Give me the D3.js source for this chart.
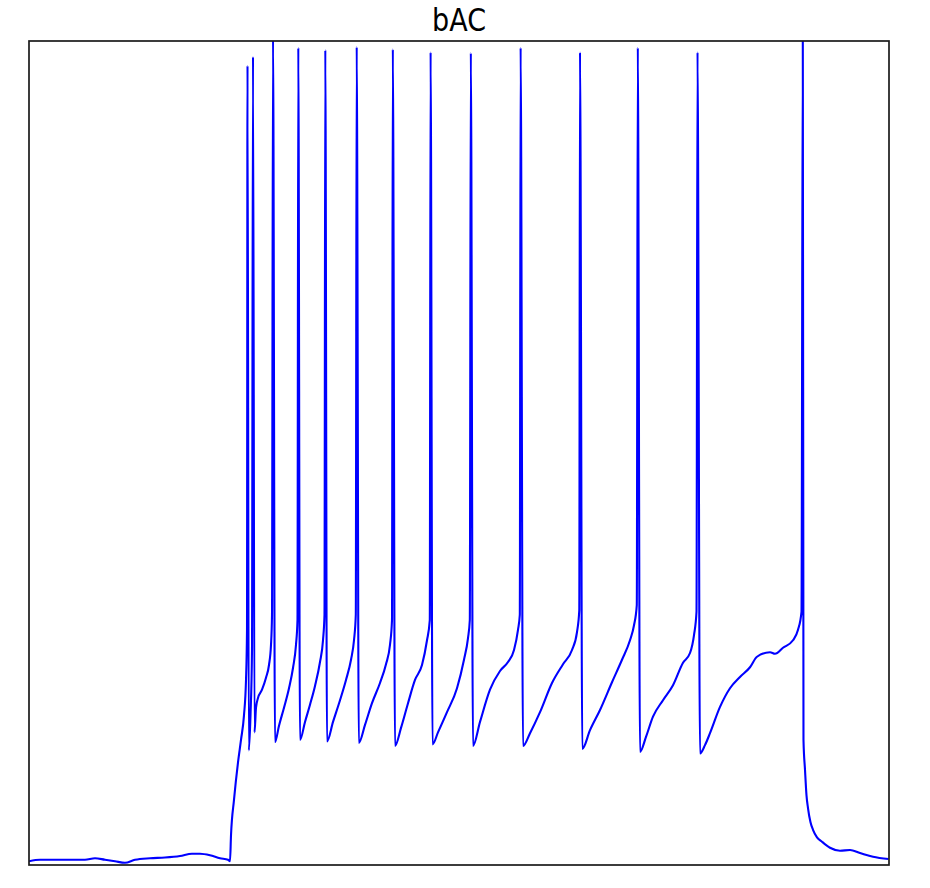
<!DOCTYPE html>
<html>
<head>
<meta charset="utf-8">
<script src="https://cdn.jsdelivr.net/npm/d3@7"></script>
<style>
  body { margin: 0; background: #fff; }
</style>
</head>
<body>
<svg id="chart"></svg>
<script>
// membrane potential trace, [time ms, voltage mV]
const chartTitle = "bAC";
const timeRange = [0, 3000];
const voltRange = [-80, 30];

const beforeStim = [
  [0, -79.5], [38.4, -79.3], [90.7, -79.3], [143.0, -79.3], [195.3, -79.3],
  [230.2, -79.1], [265.1, -79.3], [300.0, -79.5], [334.9, -79.7], [369.8, -79.3],
  [422.1, -79.1], [474.4, -79.0], [526.7, -78.8], [568.6, -78.5], [596.5, -78.5],
  [631.4, -78.7], [666.3, -79.1], [694.2, -79.3], [701.2, -79.5]
];

const duringStim = [
  [704.7, -76.0], [715.1, -71.3], [729.1, -66.3], [739.5, -63.3], [750.0, -60.0], [757.0, -55.3], [760.5, -48.6],
  [762.2, 26.7], [766.7, -64.7],
  [772.7, -60.0], [777.9, -51.3], [781.4, 27.9], [786.6, -62.3],
  [791.9, -59.0], [798.8, -57.7], [812.8, -56.6], [826.7, -55.0], [837.2, -53.3], [844.2, -50.6], [847.7, -46.6],
  [851.2, 30.8], [858.1, -63.6],
  [872.1, -61.4], [889.5, -59.0], [907.0, -56.4], [920.9, -53.7], [931.4, -50.6], [936.6, -47.3],
  [939.4, 29.1], [945.3, -63.3],
  [962.8, -60.9], [980.2, -58.6], [997.7, -56.1], [1015.1, -52.9], [1025.6, -50.0], [1030.8, -46.6],
  [1033.6, 28.8], [1039.5, -63.5],
  [1060.5, -60.9], [1084.9, -58.0], [1105.8, -55.3], [1123.3, -52.6], [1133.7, -50.0], [1140.0, -46.6],
  [1143.1, 29.2], [1150.5, -63.7],
  [1172.1, -61.3], [1196.5, -58.4], [1224.4, -55.7], [1245.3, -53.2], [1259.3, -50.6], [1266.3, -47.3],
  [1269.1, 28.9], [1276.7, -64.1],
  [1297.7, -61.7], [1322.1, -58.4], [1346.5, -55.3], [1370.9, -53.3], [1388.4, -50.0], [1398.1, -47.3],
  [1400.9, 28.5], [1407.6, -63.9],
  [1426.7, -62.3], [1458.1, -59.6], [1493.0, -56.4], [1517.4, -52.6], [1531.4, -49.7], [1537.7, -47.3],
  [1541.2, 28.4], [1548.8, -64.1],
  [1573.3, -60.9], [1608.1, -56.6], [1643.0, -54.1], [1670.9, -52.9], [1691.9, -51.3], [1705.8, -48.6], [1712.1, -46.6],
  [1714.9, 29.1], [1723.3, -64.1],
  [1747.7, -62.4], [1782.6, -59.6], [1824.4, -55.7], [1862.8, -53.2], [1894.2, -51.3], [1911.6, -48.9], [1919.6, -46.0],
  [1922.1, 28.5], [1930.1, -64.5],
  [1957.0, -62.0], [1991.9, -59.3], [2033.7, -55.6], [2068.6, -52.6], [2096.5, -50.0], [2110.5, -48.0], [2120.2, -45.3],
  [2123.7, 29.1], [2131.4, -64.9],
  [2152.3, -62.9], [2176.7, -60.2], [2211.6, -58.0], [2246.5, -56.0], [2281.4, -53.0], [2305.8, -51.7], [2319.8, -49.3], [2328.5, -46.2],
  [2332.0, 28.5], [2340.7, -65.1],
  [2358.1, -64.0], [2375.6, -62.4], [2410.5, -58.9], [2445.3, -56.4], [2480.2, -54.9], [2515.1, -53.6], [2539.5, -52.2],
  [2584.9, -51.6], [2602.3, -51.8], [2630.2, -51.0], [2665.1, -50.0], [2682.6, -48.6], [2694.8, -46.2],
  [2699.3, 30.8]
];

const afterStim = [
  [2701.7, -63.3], [2707.0, -67.3], [2712.2, -70.7], [2717.4, -72.4], [2726.2, -74.3], [2734.9, -75.3],
  [2748.8, -76.3], [2766.3, -76.9], [2794.2, -77.7], [2829.1, -78.1], [2864.0, -78.0], [2898.8, -78.4],
  [2944.2, -78.9], [2998.3, -79.2]
];

const trace = beforeStim.concat(duringStim, afterStim);

// set the dimensions and margins of the graph
var margin = {top: 41, right: 41, bottom: 23, left: 29},
    width = 930 - margin.left - margin.right,
    height = 888 - margin.top - margin.bottom;

var svg = d3.select("#chart")
    .attr("width", 930)
    .attr("height", 888);

var g = svg.append("g")
    .attr("transform", "translate(" + margin.left + "," + margin.top + ")");

var x = d3.scaleLinear().domain(timeRange).range([0, width]);
var y = d3.scaleLinear().domain(voltRange).range([height, 0]);

g.append("clipPath")
    .attr("id", "plot-clip")
  .append("rect")
    .attr("width", width)
    .attr("height", height);

var valueline = d3.line()
    .curve(d3.curveMonotoneX)
    .x(function(d) { return x(d[0]); })
    .y(function(d) { return y(d[1]); });

g.append("path")
    .datum(trace)
    .attr("clip-path", "url(#plot-clip)")
    .attr("fill", "none")
    .attr("stroke", "#0000ff")
    .attr("stroke-width", 2.1)
    .attr("stroke-linejoin", "round")
    .attr("d", valueline);

// frame
g.append("rect")
    .attr("width", width)
    .attr("height", height)
    .attr("fill", "none")
    .attr("stroke", "#1a1a1a")
    .attr("stroke-width", 1.7);

// title, a bit stretched vertically like the source picture
svg.append("text")
    .attr("transform", "translate(" + (margin.left + width / 2) + ",30.5) scale(1,1.2)")
    .attr("text-anchor", "middle")
    .style("font-family", "DejaVu Sans")
    .style("font-size", "27px")
    .text(chartTitle);
</script>
</body>
</html>
